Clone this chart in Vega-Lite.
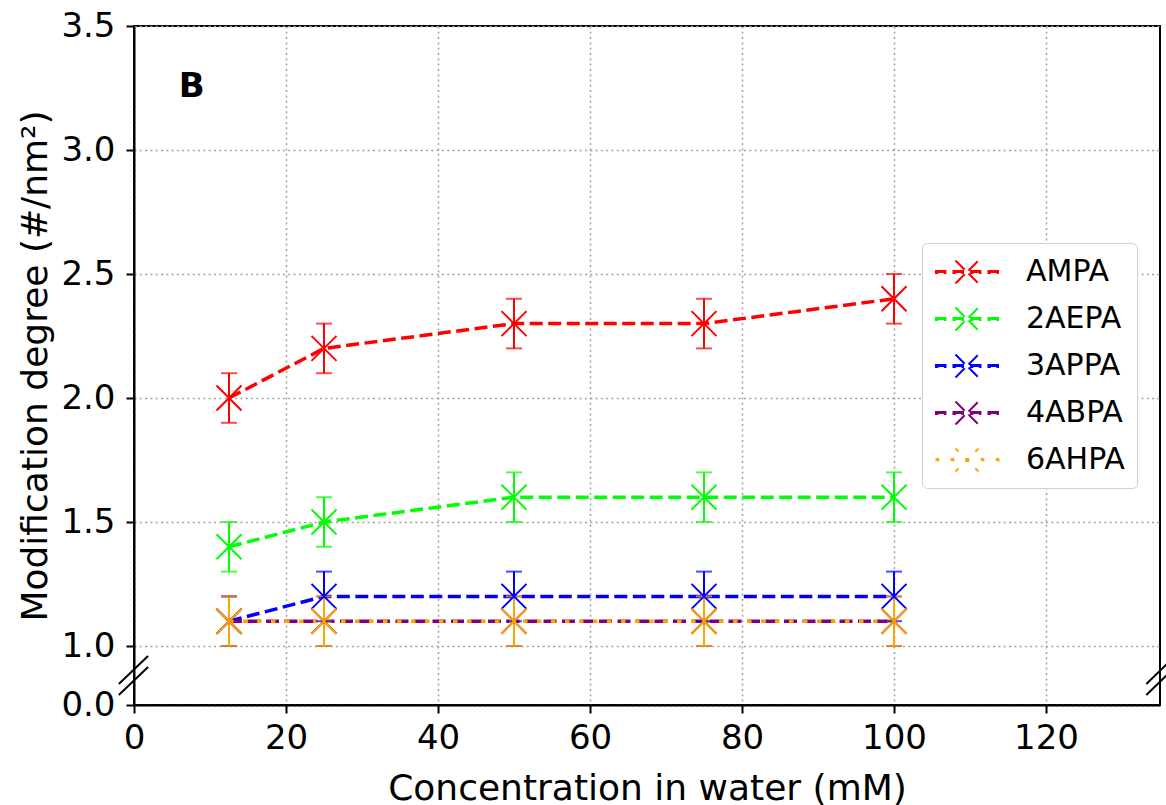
{
  "$schema": "https://vega.github.io/schema/vega-lite/v6.json",
  "width": 1026,
  "height": 679,
  "autosize": {"type": "none"},
  "padding": {"left": 134, "top": 26, "right": 6, "bottom": 100},
  "background": "white",
  "config": {
    "font": "DejaVu Sans",
    "view": {"stroke": "black", "strokeWidth": 2},
    "axis": {
      "domainColor": "black",
      "domainWidth": 2,
      "tickColor": "black",
      "tickWidth": 2,
      "tickSize": 8,
      "labelFont": "DejaVu Sans",
      "labelFontSize": 34,
      "labelColor": "black",
      "labelFlush": false,
      "titleFont": "DejaVu Sans",
      "titleFontSize": 36,
      "titleFontWeight": "normal",
      "titleColor": "black",
      "grid": true,
      "gridColor": "#a0a0a0",
      "gridDash": [2, 3.3],
      "gridWidth": 1.5
    },
    "legend": {
      "orient": "none",
      "legendX": 788,
      "legendY": 217,
      "fillColor": "white",
      "strokeColor": "#d0d0d0",
      "cornerRadius": 5,
      "padding": 12,
      "labelFont": "DejaVu Sans",
      "labelFontSize": 30,
      "labelColor": "black",
      "rowPadding": 14,
      "symbolOffset": 16,
      "labelOffset": 42,
      "symbolStrokeWidth": 2,
      "symbolOpacity": 1,
      "symbolSize": 1024
    }
  },
  "data": {
    "values": [
      {"series": "AMPA", "conc": 12.5, "val": 2.0, "err": 0.1},
      {"series": "AMPA", "conc": 25, "val": 2.2, "err": 0.1},
      {"series": "AMPA", "conc": 50, "val": 2.3, "err": 0.1},
      {"series": "AMPA", "conc": 75, "val": 2.3, "err": 0.1},
      {"series": "AMPA", "conc": 100, "val": 2.4, "err": 0.1},
      {"series": "2AEPA", "conc": 12.5, "val": 1.4, "err": 0.1},
      {"series": "2AEPA", "conc": 25, "val": 1.5, "err": 0.1},
      {"series": "2AEPA", "conc": 50, "val": 1.6, "err": 0.1},
      {"series": "2AEPA", "conc": 75, "val": 1.6, "err": 0.1},
      {"series": "2AEPA", "conc": 100, "val": 1.6, "err": 0.1},
      {"series": "3APPA", "conc": 12.5, "val": 1.1, "err": 0.1},
      {"series": "3APPA", "conc": 25, "val": 1.2, "err": 0.1},
      {"series": "3APPA", "conc": 50, "val": 1.2, "err": 0.1},
      {"series": "3APPA", "conc": 75, "val": 1.2, "err": 0.1},
      {"series": "3APPA", "conc": 100, "val": 1.2, "err": 0.1},
      {"series": "4ABPA", "conc": 12.5, "val": 1.1, "err": 0.1},
      {"series": "4ABPA", "conc": 25, "val": 1.1, "err": 0.1},
      {"series": "4ABPA", "conc": 50, "val": 1.1, "err": 0.1},
      {"series": "4ABPA", "conc": 75, "val": 1.1, "err": 0.1},
      {"series": "4ABPA", "conc": 100, "val": 1.1, "err": 0.1},
      {"series": "6AHPA", "conc": 12.5, "val": 1.1, "err": 0.1},
      {"series": "6AHPA", "conc": 25, "val": 1.1, "err": 0.1},
      {"series": "6AHPA", "conc": 50, "val": 1.1, "err": 0.1},
      {"series": "6AHPA", "conc": 75, "val": 1.1, "err": 0.1},
      {"series": "6AHPA", "conc": 100, "val": 1.1, "err": 0.1}
    ]
  },
  "layer": [
    {
      "mark": {"type": "line", "strokeWidth": 3.5},
      "encoding": {
        "x": {
          "field": "conc", "type": "quantitative",
          "title": "Concentration in water (mM)",
          "scale": {"domain": [0, 135], "nice": false, "zero": false},
          "axis": {"values": [0, 20, 40, 60, 80, 100, 120], "labelPadding": 8, "titlePadding": 16}
        },
        "y": {
          "field": "val", "type": "quantitative",
          "title": "Modification degree (#/nm²)",
          "scale": {"domain": [0, 1, 3.5], "range": [679, 620, 0], "nice": false, "zero": false},
          "axis": {"values": [0, 1, 1.5, 2, 2.5, 3, 3.5], "format": ".1f", "labelPadding": 11, "titlePadding": 6}
        },
        "color": {
          "field": "series", "type": "nominal",
          "scale": {
            "domain": ["AMPA", "2AEPA", "3APPA", "4ABPA", "6AHPA"],
            "range": ["#ff0000", "#00ff00", "#0000ff", "#800080", "#ffa500"]
          },
          "legend": {"title": null}
        },
        "strokeDash": {
          "field": "series", "type": "nominal",
          "scale": {
            "domain": ["AMPA", "2AEPA", "3APPA", "4ABPA", "6AHPA"],
            "range": [[13, 5.5], [13, 5.5], [13, 5.5], [13, 5.5], [4.5, 9.5]]
          },
          "legend": null
        }
      }
    },
    {
      "mark": {"type": "errorbar", "ticks": true, "size": 16, "thickness": 2},
      "encoding": {
        "x": {"field": "conc", "type": "quantitative", "title": "Concentration in water (mM)"},
        "y": {"field": "val", "type": "quantitative", "title": "Modification degree (#/nm²)"},
        "yError": {"field": "err"},
        "color": {"field": "series", "type": "nominal", "legend": {"title": null}}
      }
    },
    {
      "mark": {"type": "point", "shape": "M-1,-1L1,1M-1,1L1,-1", "size": 625, "filled": false, "strokeWidth": 2, "opacity": 1},
      "encoding": {
        "x": {"field": "conc", "type": "quantitative", "title": "Concentration in water (mM)"},
        "y": {"field": "val", "type": "quantitative", "title": "Modification degree (#/nm²)"},
        "color": {"field": "series", "type": "nominal", "legend": {"title": null}}
      }
    },
    {
      "transform": [{"filter": "datum.conc < 0"}],
      "mark": {"type": "point", "filled": false, "strokeWidth": 2, "opacity": 1},
      "encoding": {
        "x": {"field": "conc", "type": "quantitative", "title": "Concentration in water (mM)"},
        "y": {"field": "val", "type": "quantitative", "title": "Modification degree (#/nm²)"},
        "color": {"field": "series", "type": "nominal", "legend": {"title": null}},
        "shape": {
          "field": "series", "type": "nominal",
          "scale": {
            "domain": ["AMPA", "2AEPA", "3APPA", "4ABPA", "6AHPA"],
            "range": [
              "M-1.94,-0.06H-1.346V0.06H-1.94ZM-0.846,-0.06H-0.252V0.06H-0.846ZM0.248,-0.06H0.842V0.06H0.248ZM1.342,-0.06H1.936V0.06H1.342ZM-0.72,-0.72L0.72,0.72M-0.72,0.72L0.72,-0.72",
              "M-1.94,-0.06H-1.346V0.06H-1.94ZM-0.846,-0.06H-0.252V0.06H-0.846ZM0.248,-0.06H0.842V0.06H0.248ZM1.342,-0.06H1.936V0.06H1.342ZM-0.72,-0.72L0.72,0.72M-0.72,0.72L0.72,-0.72",
              "M-1.94,-0.06H-1.346V0.06H-1.94ZM-0.846,-0.06H-0.252V0.06H-0.846ZM0.248,-0.06H0.842V0.06H0.248ZM1.342,-0.06H1.936V0.06H1.342ZM-0.72,-0.72L0.72,0.72M-0.72,0.72L0.72,-0.72",
              "M-1.94,-0.06H-1.346V0.06H-1.94ZM-0.846,-0.06H-0.252V0.06H-0.846ZM0.248,-0.06H0.842V0.06H0.248ZM1.342,-0.06H1.936V0.06H1.342ZM-0.72,-0.72L0.72,0.72M-0.72,0.72L0.72,-0.72",
              "M-1.96,-0.06H-1.8V0.06H-1.96ZM-1.02,-0.06H-0.86V0.06H-1.02ZM-0.08,-0.06H0.08V0.06H-0.08ZM0.86,-0.06H1.02V0.06H0.86ZM1.8,-0.06H1.96V0.06H1.8ZM-0.72,-0.72L0.72,0.72M-0.72,0.72L0.72,-0.72"
            ]
          },
          "legend": {"title": null}
        }
      }
    },
    {
      "data": {"values": [{"conc": 7.6, "val": 3.256, "label": "B"}]},
      "mark": {"type": "text", "font": "DejaVu Sans", "fontSize": 34, "fontWeight": "bold", "align": "center", "baseline": "middle", "color": "black"},
      "encoding": {
        "x": {"field": "conc", "type": "quantitative", "title": "Concentration in water (mM)"},
        "y": {"field": "val", "type": "quantitative", "title": "Modification degree (#/nm²)"},
        "text": {"field": "label"}
      }
    },
    {
      "data": {"values": [
        {"conc": -2, "val": 0.17, "conc2": 1.85, "val2": 0.644},
        {"conc": -2, "val": 0.356, "conc2": 1.85, "val2": 0.83},
        {"conc": 133.2, "val": 0.17, "conc2": 137, "val2": 0.644},
        {"conc": 133.2, "val": 0.356, "conc2": 137, "val2": 0.83}
      ]},
      "mark": {"type": "rule", "color": "black", "strokeWidth": 2, "clip": false},
      "encoding": {
        "x": {"field": "conc", "type": "quantitative", "title": "Concentration in water (mM)"},
        "y": {"field": "val", "type": "quantitative", "title": "Modification degree (#/nm²)"},
        "x2": {"field": "conc2"},
        "y2": {"field": "val2"}
      }
    }
  ]
}
